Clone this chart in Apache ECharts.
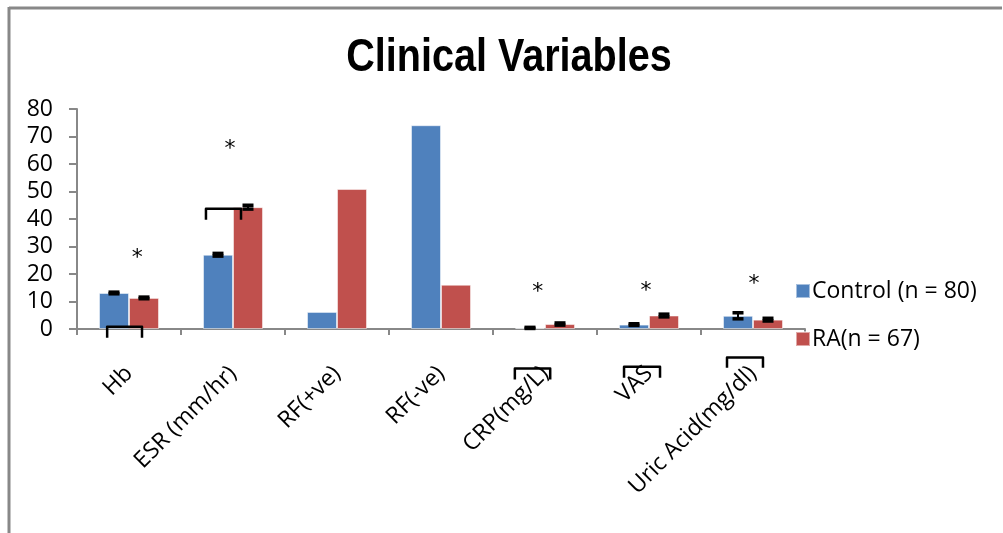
<!DOCTYPE html>
<html>
<head>
<meta charset="utf-8">
<script src="https://cdn.jsdelivr.net/npm/echarts@6/dist/echarts.min.js"></script>
<style>html,body{margin:0;padding:0;background:#fff}#c{width:1003px;height:533px}</style>
</head>
<body>
<div id="c"></div>
<script>
const categories = ['Hb', 'ESR (mm/hr)', 'RF(+ve)', 'RF(-ve)', 'CRP(mg/L)', 'VAS', 'Uric Acid(mg/dl)'];
const controlValues = [13.1, 27.0, 6.2, 74.1, 0.4, 1.6, 4.8];
const raValues = [11.3, 44.3, 50.9, 16.1, 1.8, 4.9, 3.4];
const controlErrors = [0.3, 0.5, 0, 0, 0.2, 0.3, 1.1];
const raErrors = [0.3, 0.7, 0, 0, 0.4, 0.5, 0.5];
const yTicks = [0, 10, 20, 30, 40, 50, 60, 70, 80];
// significance stars: [category index, x offset (fraction of band), y value]
const stars = [[0, 0.08, 27.7], [1, -0.03, 67.3], [4, -0.07, 15.1], [5, -0.03, 15.4], [6, 0.01, 17.9]];
// brackets: [category index, x start offset, x end offset, y top, y bottom]
const brackets = [
  [0, -0.21, 0.125, 0.8, -3.2],
  [1, -0.26, 0.077, 43.7, 39.7],
  [4, -0.29, 0.05, -14.4, -18.4],
  [5, -0.24, 0.106, -13.7, -17.7],
  [6, -0.25, 0.096, -10.4, -14.1]
];

const chart = echarts.init(document.getElementById('c'));
const BAR_W = 30;

function errorSeries(values, errors, dx) {
  return {
    type: 'custom',
    z: 5,
    data: values.map((v, i) => [i, v, errors[i]]),
    encode: { x: 0, y: 1 },
    renderItem: function (params, api) {
      const i = api.value(0), v = api.value(1), e = api.value(2);
      if (!e) return null;
      const hi = api.coord([i, v + e]);
      const lo = api.coord([i, v - e]);
      const x = hi[0] + dx;
      const w = 5.5;
      const st = { stroke: '#000', lineWidth: 3.5 };
      return {
        type: 'group',
        children: [
          { type: 'line', shape: { x1: x, y1: hi[1], x2: x, y2: lo[1] }, style: { stroke: '#000', lineWidth: 2 } },
          { type: 'line', shape: { x1: x - w, y1: hi[1], x2: x + w, y2: hi[1] }, style: st },
          { type: 'line', shape: { x1: x - w, y1: lo[1], x2: x + w, y2: lo[1] }, style: st }
        ]
      };
    }
  };
}

const option = {
  animation: false,
  backgroundColor: '#fff',
  legend: {
    orient: 'vertical',
    left: 790,
    top: 273,
    itemWidth: 14,
    itemHeight: 14,
    itemGap: 22,
    icon: 'rect',
    textStyle: { fontFamily: 'Open Sans', fontSize: 23, lineHeight: 26, color: '#000', padding: [0, 0, 0, -3] },
    data: ['Control (n = 80)', 'RA(n = 67)']
  },
  grid: { left: 77, right: 198, top: 109, bottom: 204, containLabel: false },
  xAxis: {
    type: 'category',
    data: categories,
    axisLine: { lineStyle: { color: '#888', width: 2 } },
    axisTick: { show: true, length: 6, lineStyle: { color: '#888', width: 2 } },
    axisLabel: { rotate: 45, margin: 41, fontFamily: 'Open Sans', fontSize: 23, color: '#000', interval: 0 }
  },
  yAxis: {
    type: 'value',
    min: 0,
    max: 80,
    interval: 10,
    splitLine: { show: false },
    axisLine: { show: true, lineStyle: { color: '#888', width: 2 } },
    axisTick: { show: true, length: 8, lineStyle: { color: '#888', width: 2 } },
    axisLabel: {
      margin: 24, fontFamily: 'Open Sans', fontSize: 23, color: '#000',
      formatter: v => yTicks.indexOf(v) >= 0 ? String(v) : ''
    }
  },
  series: [
    {
      name: 'Control (n = 80)', type: 'bar', data: controlValues, barWidth: BAR_W, barGap: '0%',
      itemStyle: { color: '#4F81BD', borderColor: 'rgba(255,255,255,0.5)', borderWidth: 1 }
    },
    {
      name: 'RA(n = 67)', type: 'bar', data: raValues, barWidth: BAR_W, barGap: '0%',
      itemStyle: { color: '#C0504D', borderColor: 'rgba(255,255,255,0.5)', borderWidth: 1 }
    },
    errorSeries(controlValues, controlErrors, -BAR_W / 2),
    errorSeries(raValues, raErrors, BAR_W / 2),
    {
      type: 'custom', z: 6,
      data: stars,
      encode: { x: 0, y: 2 },
      renderItem: function (params, api) {
        const bw = api.size([1, 0])[0];
        const p = api.coord([api.value(0), api.value(2)]);
        return {
          type: 'text',
          style: { text: '*', x: p[0] + api.value(1) * bw, y: p[1] + 5, fontSize: 22, fontFamily: 'DejaVu Sans', fill: '#000', align: 'center', verticalAlign: 'middle' }
        };
      }
    },
    {
      type: 'custom', z: 6,
      data: brackets,
      encode: { x: 0, y: 3 },
      renderItem: function (params, api) {
        const bw = api.size([1, 0])[0];
        const c = api.coord([api.value(0), api.value(3)]);
        const b = api.coord([api.value(0), api.value(4)]);
        const x0 = c[0] + api.value(1) * bw, x1 = c[0] + api.value(2) * bw;
        return {
          type: 'polyline',
          shape: { points: [[x0, b[1]], [x0, c[1]], [x1, c[1]], [x1, b[1]]] },
          style: { stroke: '#000', lineWidth: 2.5, fill: null, lineJoin: 'round' }
        };
      }
    }
  ],
  graphic: [
    {
      type: 'text', x: 509, y: 58, scaleX: 0.86, scaleY: 1,
      style: { text: 'Clinical Variables', fontFamily: 'Liberation Sans', fontWeight: 'bold', fontSize: 46, fill: '#000', align: 'center', verticalAlign: 'middle' }
    },
    { type: 'line', shape: { x1: 9, y1: 8, x2: 1002, y2: 8 }, style: { stroke: '#888', lineWidth: 3 } },
    { type: 'line', shape: { x1: 9, y1: 7, x2: 9, y2: 533 }, style: { stroke: '#888', lineWidth: 3 } }
  ]
};
chart.setOption(option);
</script>
</body>
</html>
